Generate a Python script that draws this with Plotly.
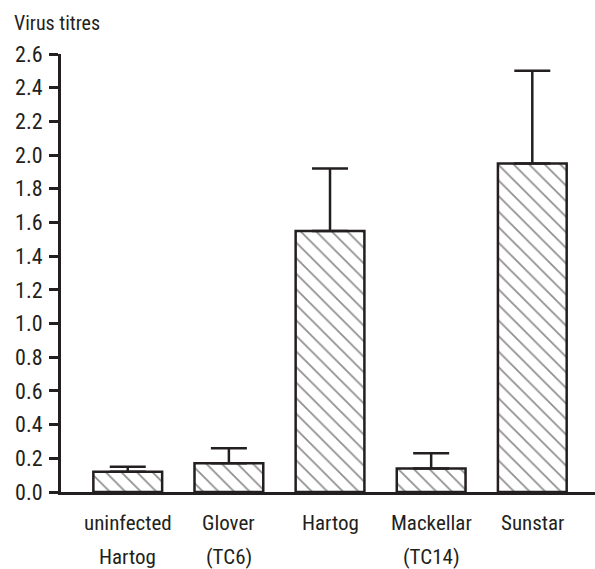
import plotly.graph_objects as go

categories = ["uninfected Hartog", "Glover (TC6)", "Hartog", "Mackellar (TC14)", "Sunstar"]
label_line1 = ["uninfected", "Glover", "Hartog", "Mackellar", "Sunstar"]
label_line2 = ["Hartog", "(TC6)", "", "(TC14)", ""]
titres = [0.12, 0.17, 1.55, 0.14, 1.95]
errors = [0.03, 0.09, 0.37, 0.09, 0.55]
y_ticks = [0.0, 0.2, 0.4, 0.6, 0.8, 1.0, 1.2, 1.4, 1.6, 1.8, 2.0, 2.2, 2.4, 2.6]

INK = "#231f20"
FONT = "Roboto Condensed, sans-serif"

x_idx = list(range(len(categories)))

fig = go.Figure()
fig.add_trace(go.Bar(
    x=x_idx,
    y=titres,
    width=0.68,
    marker=dict(
        color="white",
        line=dict(color=INK, width=2.5),
        pattern=dict(shape="\\", fgcolor=INK, bgcolor="white", size=11, solidity=0.16),
    ),
    error_y=dict(
        type="data",
        symmetric=False,
        array=errors,
        arrayminus=[0] * len(errors),
        color=INK,
        thickness=2.5,
        width=18,
    ),
))

plot_top, plot_bottom = 54, 492
plot_left, plot_right = 61, 595

def py(pix):
    return (plot_bottom - pix) / (plot_bottom - plot_top)

annotations = []
for i, (l1, l2) in enumerate(zip(label_line1, label_line2)):
    annotations.append(dict(x=i, y=py(523), xref="x", yref="paper", yanchor="middle", text=l1,
                            showarrow=False, font=dict(family=FONT, size=21, color=INK)))
    if l2:
        annotations.append(dict(x=i, y=py(557), xref="x", yref="paper", yanchor="middle", text=l2,
                                showarrow=False, font=dict(family=FONT, size=21, color=INK)))

annotations.append(dict(
    x=(12 - plot_left) / (plot_right - plot_left), y=py(23), xref="paper", yref="paper",
    xanchor="left", yanchor="middle", text="Virus titres", showarrow=False,
    font=dict(family=FONT, size=20, color=INK),
))

fig.update_layout(
    width=595,
    height=569,
    margin=dict(l=plot_left, r=595 - plot_right, t=plot_top, b=569 - plot_bottom),
    paper_bgcolor="white",
    plot_bgcolor="white",
    showlegend=False,
    annotations=annotations,
    xaxis=dict(
        range=[-0.66, 4.62],
        showticklabels=False,
        ticks="",
        showgrid=False,
        zeroline=False,
        showline=True,
        linecolor=INK,
        linewidth=3,
    ),
    yaxis=dict(
        range=[0, 2.6],
        tickvals=y_ticks,
        ticktext=[f"{v:.1f}" for v in y_ticks],
        ticks="outside",
        ticklen=9,
        tickwidth=2.5,
        tickcolor=INK,
        showgrid=False,
        zeroline=False,
        showline=True,
        linecolor=INK,
        linewidth=3,
        tickfont=dict(family=FONT, size=22, color=INK),
        ticklabelstandoff=2,
    ),
)

fig.write_html("out.html")
